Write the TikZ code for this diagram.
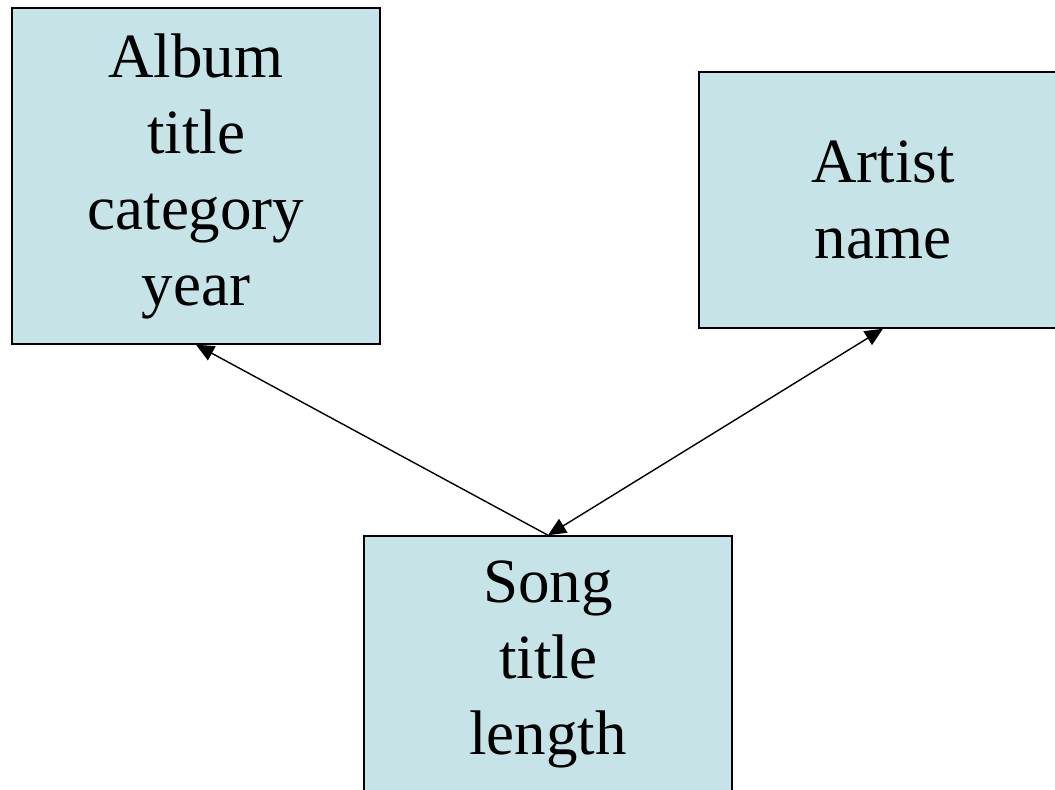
\documentclass[tikz,border=0pt]{standalone}
\usepackage{fontspec}
\setmainfont{Liberation Serif}
\usetikzlibrary{arrows.meta}
\definecolor{boxfill}{RGB}{198,228,232}
\begin{document}
\begin{tikzpicture}[x=0.5pt,y=0.5pt,
  entity/.style={draw, line width=0.75pt, fill=boxfill, minimum width=184pt, align=center, font=\fontsize{31.5}{38}\selectfont},
  link/.style={line width=0.7pt, -{Triangle[length=9pt,width=8pt]}}]
\useasboundingbox (0,0) rectangle (1055,790);
\node[entity, minimum height=168pt] (album) at (196,614){Album\\title\\category\\year};
\node[entity, minimum height=128pt] (artist) at (883,590){Artist\\name};
\node[entity, minimum height=128pt] (song) at (548,126){Song\\title\\length};
\draw[link](song.north) -- (album.south);
\draw[link, {Triangle[length=9pt,width=8pt]}-{Triangle[length=9pt,width=8pt]}](song.north) -- (artist.south);
\end{tikzpicture}
\end{document}
